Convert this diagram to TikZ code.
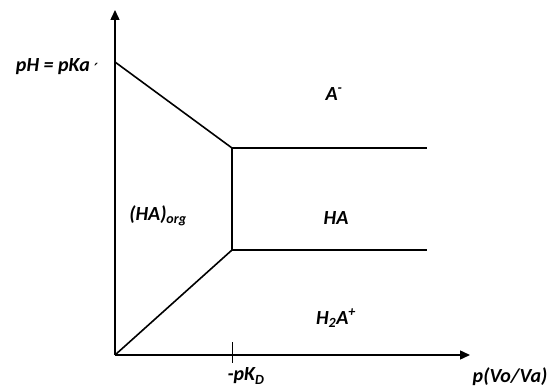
\documentclass[tikz,border=0pt]{standalone}
\usepackage{fontspec}
\setmainfont{Carlito}
\newfontfamily\symfont{DejaVu Sans}
\usetikzlibrary{arrows.meta,positioning}
\tikzset{
  ax/.style={line width=1.4pt,-{Triangle[length=10pt,width=9pt]}},
  bd/.style={line width=1.6pt},
  lab/.style={font=\fontsize{20}{22}\selectfont\bfseries\itshape,inner sep=1pt},
}

\begin{document}
\begin{tikzpicture}[x=1pt,y=-1pt]
\useasboundingbox (0,0) rectangle (554,387);
% ---- axes ----
\coordinate (O) at (115,355);
\coordinate (ytip) at (115,10);
\coordinate (xtip) at (470,355);
\draw[ax] (O) -- (ytip);
\draw[ax] (O) -- (xtip);
\coordinate (tk1) at (232,342); \coordinate (tk2) at (232,363);
\draw[line width=1pt] (tk1) -- (tk2);
% ---- boundaries ----
\coordinate (pka) at (115,62);
\coordinate (up) at (232,148);
\coordinate (lo) at (232,250);
\coordinate (upend) at (427,148);
\coordinate (loend) at (427,250);
\draw[bd] (pka) -- (up) -- (lo) -- (O);
\draw[bd] (up) -- (upend);
\draw[bd] (lo) -- (loend);
% ---- labels ----
\node[lab] (lpka) at (57,67) {pH = pKa {\symfont\fontsize{14}{14}\selectfont\raisebox{-2pt}{′}}};
\node[lab] (lpkd) at (246,376) {-pK\textsubscript{D}};
\node[lab] (lpv) at (510,377) {p(Vo/Va)};
\node[lab] (lorg) at (158,216) {(HA)\textsubscript{org}};
\node[lab] (lha) at (336,218) {HA};
\node[lab] (lam) at (334,94) {A\textsuperscript{-}};
\node[lab] (lh2a) at (336,318) {H\textsubscript{2}A\textsuperscript{+}};
\end{tikzpicture}
\end{document}
